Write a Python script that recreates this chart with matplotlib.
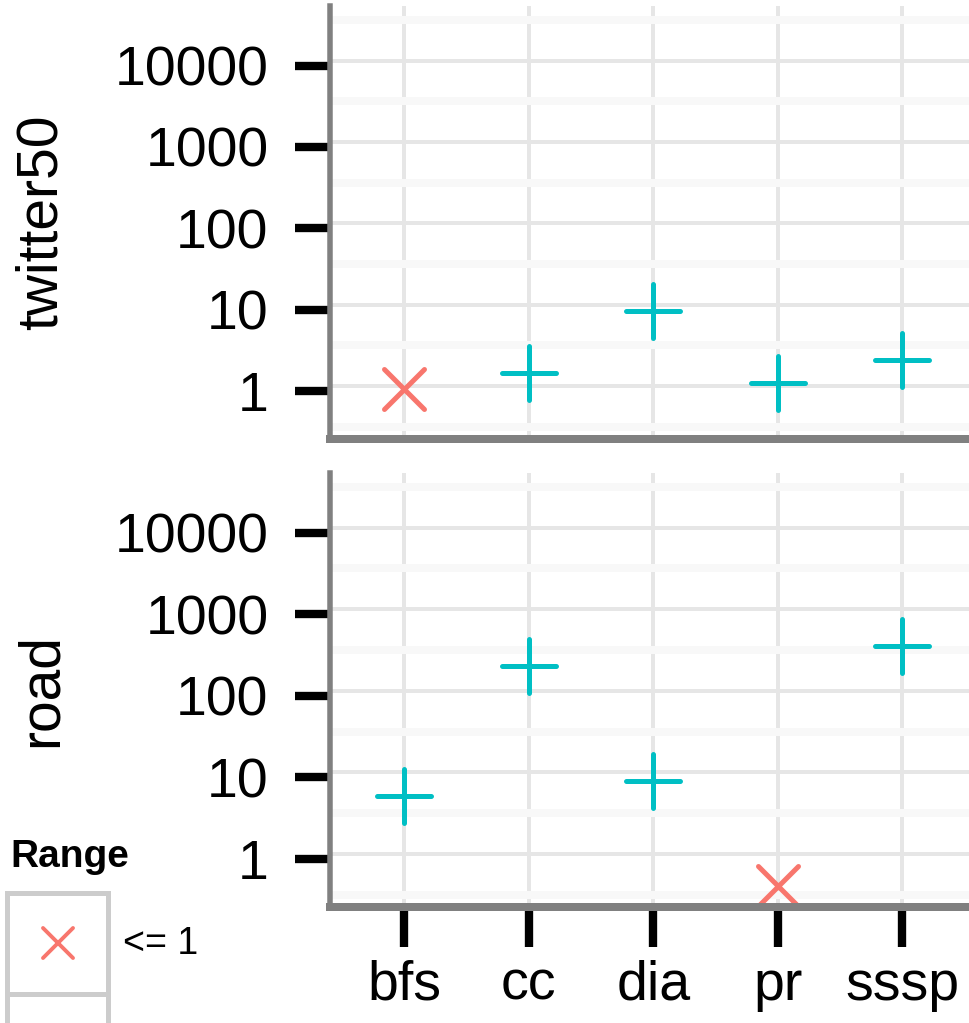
import matplotlib.pyplot as plt
import matplotlib.transforms as mtransforms
import numpy as np
from matplotlib.markers import MarkerStyle
from matplotlib.patches import Rectangle
from matplotlib.ticker import FixedLocator, NullFormatter

plt.rcParams['font.family'] = ['Liberation Sans', 'DejaVu Sans']

algorithms = ["bfs", "cc", "dia", "pr", "sssp"]
graphs = ["twitter50", "road"]
twitter50_speedup = [0.91, 1.46, 8.3, 1.08, 2.1]
road_speedup = [5.1, 200, 7.8, 0.41, 352]
y_ticks = [1, 10, 100, 1000, 10000]
range_labels = ["<= 1", "> 1"]
range_colors = ["#F8766D", "#00BFC4"]
range_markers = ["x", "+"]
range_sizes = [29, 39]

W, H = 970, 1023
PT = 0.72  # points per pixel at dpi 100


def px_axes(fig, left, top, right, bottom):
    return fig.add_axes([left / W, 1 - bottom / H, (right - left) / W, (bottom - top) / H])


def style_panel(fig, ax, show_x):
    ax.set_yscale('log')
    ax.set_ylim(10 ** -0.65, 10 ** 4.67)
    ax.set_xlim(-0.6, len(algorithms) - 0.4)
    ax.set_yticks(y_ticks, labels=[str(v) for v in y_ticks])
    ax.yaxis.set_minor_locator(FixedLocator(10 ** np.arange(-0.5, 5, 1.0)))
    ax.yaxis.set_minor_formatter(NullFormatter())
    ax.set_xticks(range(len(algorithms)), labels=algorithms)
    ax.set_axisbelow(True)
    ax.grid(which='minor', axis='y', color='#f8f8f8', lw=8 * PT)
    ax.grid(which='major', color='#e6e6e6', lw=4 * PT)
    for s in ['top', 'right']:
        ax.spines[s].set_visible(False)
    ax.spines['left'].set_color('#808080')
    ax.spines['left'].set_linewidth(5.5 * PT)
    ax.spines['bottom'].set_color('#808080')
    ax.spines['bottom'].set_linewidth(8 * PT)
    ax.spines['left'].set_zorder(5)
    ax.spines['bottom'].set_zorder(5)
    ax.tick_params(axis='y', which='major', length=25, width=6, color='black',
                   labelsize=40, pad=19)
    ax.tick_params(axis='y', which='minor', length=0)
    if show_x:
        ax.tick_params(axis='x', length=29, width=6, color='black', labelsize=40, pad=9)
    else:
        ax.tick_params(axis='x', length=0, labelbottom=False)
    # y ticks and their labels sit a few pixels below the grid lines
    shift = mtransforms.ScaledTranslation(0, -5 / 100, fig.dpi_scale_trans)
    for tick in ax.yaxis.get_major_ticks():
        tick.tick1line.set_transform(tick.tick1line.get_transform() + shift)
        tick.label1.set_transform(tick.label1.get_transform() + shift)


def main():
    fig = plt.figure(figsize=(W / 100, H / 100), dpi=100)
    ax_top = px_axes(fig, 329.5, 6, 977, 439)
    ax_bot = px_axes(fig, 329.5, 473, 977, 907)

    data = [twitter50_speedup, road_speedup]
    for ax, name, vals, show_x in zip([ax_top, ax_bot], graphs, data, [False, True]):
        style_panel(fig, ax, show_x)
        vals = np.array(vals)
        xs = np.arange(len(algorithms))
        low = vals <= 1
        for mask, color, marker, size in zip([low, ~low], range_colors, range_markers, range_sizes):
            ax.plot(xs[mask], vals[mask], ls='none',
                    marker=MarkerStyle(marker, capstyle='round'), ms=size, mew=3.6,
                    color=color, clip_on=False, zorder=3)
        ax.text((42 - 329.5) / (977 - 329.5), 0.5, name, transform=ax.transAxes,
                rotation=90, ha='center', va='center', fontsize=41)

    # legend, drawn by hand in pixel coordinates (second key falls below the canvas)
    leg = fig.add_axes([0, 0, 330 / W, 200 / H])
    leg.set_xlim(0, 330)
    leg.set_ylim(1023, 823)
    leg.axis('off')
    leg.text(10, 857, "Range", fontsize=28, fontweight='bold', va='center', ha='left')
    for i, (lab, color, marker) in enumerate(zip(range_labels, range_colors, range_markers)):
        top = 893 + i * 101
        leg.add_patch(Rectangle((7, top), 101, 101, facecolor='white',
                                edgecolor='#cccccc', lw=5 * PT))
        leg.plot([57.5], [top + 50], ls='none', marker=MarkerStyle(marker, capstyle='round'),
                 ms=22, mew=2.8, color=color)
        if top + 51 < 1000:
            leg.text(123, top + 51, lab, fontsize=27, va='center', ha='left')

    fig.savefig("out.png", dpi=100)


if __name__ == "__main__":
    main()
